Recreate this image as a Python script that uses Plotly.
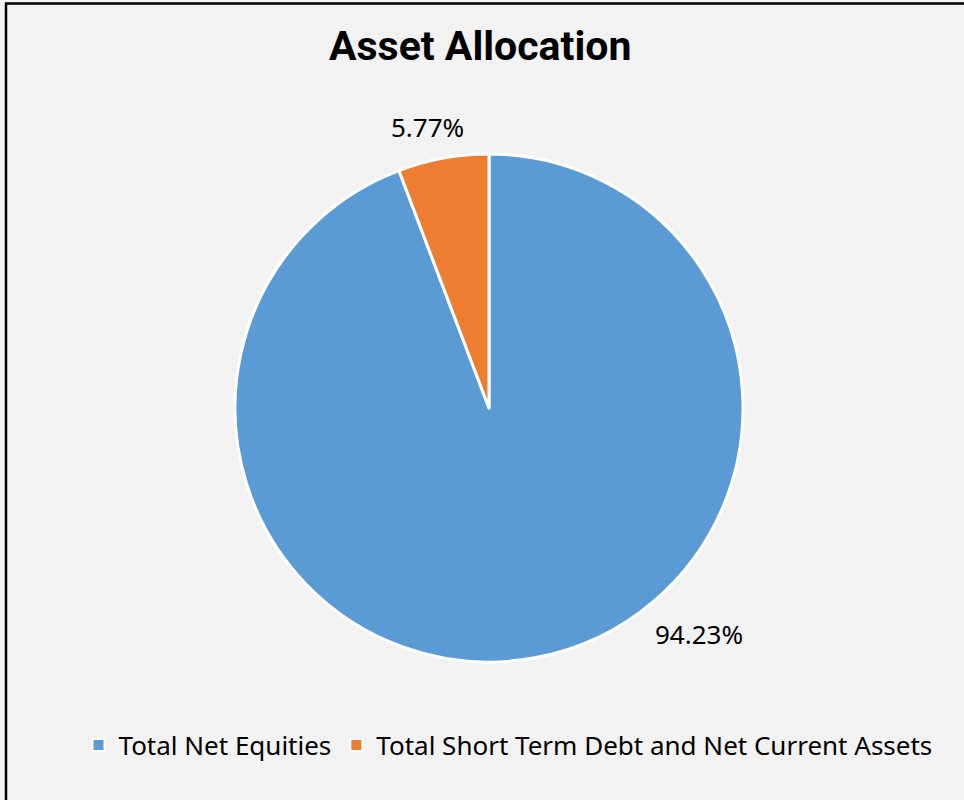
import plotly.graph_objects as go

labels = ["Total Net Equities", "Total Short Term Debt and Net Current Assets"]
values = [94.23, 5.77]
colors = ["#5B9BD5", "#ED7D31"]
title = "Asset Allocation"

W, H = 964, 800
cx, cy, r = 489, 408, 254

fig = go.Figure()
fig.add_trace(go.Pie(
    labels=labels,
    values=values,
    sort=False,
    direction="clockwise",
    rotation=0,
    marker=dict(colors=colors, line=dict(color="white", width=3)),
    textinfo="none",
    hoverinfo="label+percent",
    domain=dict(x=[(cx - r) / W, (cx + r) / W], y=[1 - (cy + r) / H, 1 - (cy - r) / H]),
))

# data label positions (pixels)
label_pos = [(699, 634), (427, 127)]
total = sum(values)
for v, (px, py) in zip(values, label_pos):
    fig.add_annotation(
        x=px / W, y=1 - py / H, xref="paper", yref="paper",
        text=f"{v / total * 100:.2f}%", showarrow=False,
        font=dict(family="Noto Sans", size=26, color="#000000"),
        xanchor="center", yanchor="middle",
    )

fig.add_annotation(
    x=480 / W, y=1 - 46 / H, xref="paper", yref="paper",
    text="<b>" + title + "</b>", showarrow=False,
    font=dict(family="Roboto", size=41, color="#000000"),
    xanchor="center", yanchor="middle",
)

# chart border
fig.add_shape(type="line", xref="paper", yref="paper",
              x0=5 / W, x1=1.01, y0=1 - 3.5 / H, y1=1 - 3.5 / H,
              line=dict(color="#000000", width=2.5))
fig.add_shape(type="line", xref="paper", yref="paper",
              x0=6 / W, x1=6 / W, y0=1 - 3 / H, y1=-0.01,
              line=dict(color="#000000", width=2.5))

fig.update_layout(
    width=W, height=H,
    margin=dict(l=0, r=0, t=0, b=0),
    paper_bgcolor="#F2F2F2",
    plot_bgcolor="#F2F2F2",
    showlegend=True,
    legend=dict(
        orientation="h",
        x=508 / W, xanchor="center",
        y=1 - 745 / H, yanchor="middle",
        font=dict(family="Noto Sans", size=26, color="#000000"),
        bgcolor="rgba(0,0,0,0)",
        itemsizing="constant",
        itemwidth=30,
        tracegroupgap=0,
    ),
)

fig.write_html("out.html", config={"displayModeBar": False},
               post_script="document.body.style.margin='0';document.body.style.overflow='hidden';")
